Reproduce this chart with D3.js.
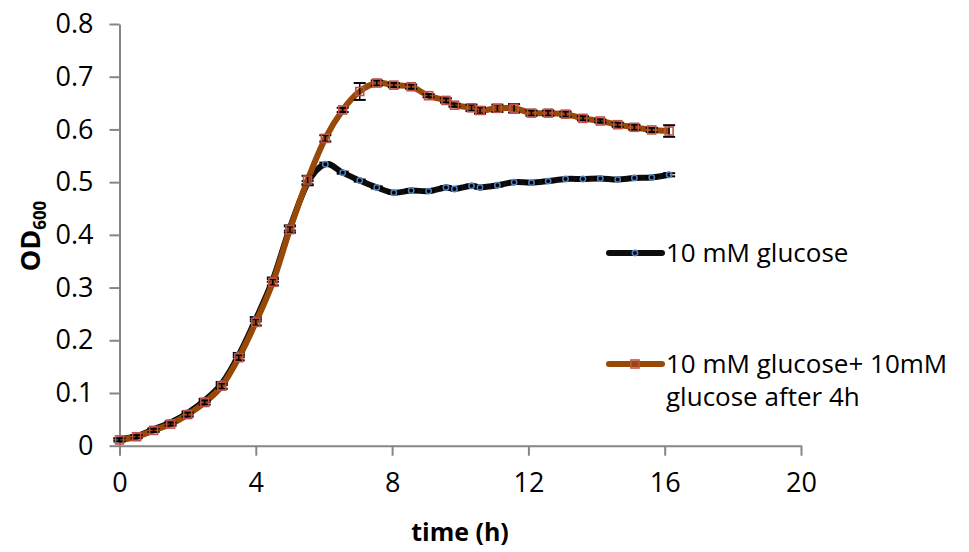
<!DOCTYPE html>
<html>
<head>
<meta charset="utf-8">
<script src="https://cdn.jsdelivr.net/npm/d3@7"></script>
<style>
  body { margin: 0; background: #fff; }
  text { font-family: "Open Sans", sans-serif; fill: #000; }
</style>
</head>
<body>
<div id="chart"></div>
<script>
// sampling times (h)
var times = [0, 0.5, 1, 1.5, 2, 2.5, 3, 3.5, 4, 4.5, 5, 5.52,
  6.04, 6.55, 7.05, 7.55, 8.05, 8.56, 9.07, 9.58,
  9.83, 10.33, 10.58, 11.09, 11.58, 12.09, 12.58, 13.09, 13.6, 14.11, 14.62, 15.11, 15.62, 16.13];

var glucose = [0.012, 0.018, 0.031, 0.044, 0.062, 0.086, 0.118, 0.172, 0.240, 0.315, 0.413, 0.498,
  0.534, 0.518, 0.503, 0.490, 0.480, 0.484, 0.483, 0.490,
  0.487, 0.493, 0.490, 0.494, 0.500, 0.499, 0.502, 0.506, 0.506, 0.507, 0.505, 0.508, 0.509, 0.514];
var glucoseErr = [0.002, 0.002, 0.002, 0.002, 0.003, 0.003, 0.003, 0.004, 0.004, 0.004, 0.005, 0.004,
  0.003, 0.002, 0.002, 0.002, 0.002, 0.002, 0.002, 0.002,
  0.002, 0.002, 0.002, 0.002, 0.002, 0.002, 0.002, 0.002, 0.002, 0.002, 0.002, 0.002, 0.002, 0.003];

var fed = [0.011, 0.017, 0.029, 0.041, 0.059, 0.082, 0.113, 0.167, 0.234, 0.310, 0.410, 0.504,
  0.583, 0.637, 0.672, 0.688, 0.684, 0.681, 0.664, 0.655,
  0.646, 0.641, 0.636, 0.640, 0.640, 0.631, 0.631, 0.629, 0.621, 0.616, 0.609, 0.604, 0.599, 0.597];
var fedErr = [0.003, 0.003, 0.003, 0.003, 0.004, 0.004, 0.005, 0.005, 0.006, 0.006, 0.006, 0.008,
  0.006, 0.004, 0.016, 0.005, 0.004, 0.004, 0.003, 0.004,
  0.003, 0.006, 0.006, 0.007, 0.008, 0.005, 0.005, 0.005, 0.004, 0.003, 0.004, 0.005, 0.004, 0.011];

var xTicks = [0, 4, 8, 12, 16, 20];
var yTicks = [0, 0.1, 0.2, 0.3, 0.4, 0.5, 0.6, 0.7, 0.8];
var seriesNames = ["10 mM glucose", ["10 mM glucose+ 10mM", "glucose after 4h"]];

var width = 969;
var height = 552;
var axisColor = "#868686";

var svg = d3.select("#chart")
  .append("svg")
  .attr("width", width)
  .attr("height", height);

var x = d3.scaleLinear().domain([0, 20]).range([119.5, 801]);
var y = d3.scaleLinear().domain([0, 0.8]).range([445.7, 24]);

// axes
var xAxis = svg.append("g")
  .attr("transform", "translate(0," + y(0) + ")")
  .call(d3.axisBottom(x).tickValues(xTicks).tickSize(10).tickPadding(17).tickSizeOuter(0));
var yAxis = svg.append("g")
  .attr("transform", "translate(" + x(0) + ",0)")
  .call(d3.axisLeft(y).tickValues(yTicks).tickSize(10).tickPadding(16).tickSizeOuter(0)
    .tickFormat(function(d){ return d === 0 ? "0" : d3.format(".1f")(d); }));

[xAxis, yAxis].forEach(function(a){
  a.select(".domain").attr("stroke", axisColor).attr("stroke-width", 2);
  a.selectAll(".tick line").attr("stroke", axisColor).attr("stroke-width", 2);
  a.selectAll(".tick text")
    .attr("font-family", "Open Sans")
    .attr("font-size", 27)
    .attr("fill", "#000");
});

// axis titles
svg.append("text")
  .attr("x", 460)
  .attr("y", 541)
  .attr("text-anchor", "middle")
  .attr("font-size", 25)
  .attr("font-weight", "bold")
  .text("time (h)");

var yTitle = svg.append("text")
  .attr("transform", "translate(40,236) rotate(-90)")
  .attr("text-anchor", "middle")
  .attr("font-size", 27)
  .attr("font-weight", "bold");
yTitle.append("tspan").text("OD");
yTitle.append("tspan").attr("font-size", 17).attr("dy", 6).text("600");

var line = d3.line()
  .x(function(d){ return x(d.t); })
  .y(function(d){ return y(d.v); })
  .curve(d3.curveCatmullRom.alpha(0));

function drawSeries(vals, errs, lineColor, markerColor, shape){
  var pts = times.map(function(t, i){ return {t: t, v: vals[i], e: errs[i]}; });
  var g = svg.append("g");

  g.append("path")
    .datum(pts)
    .attr("d", line)
    .attr("fill", "none")
    .attr("stroke", lineColor)
    .attr("stroke-width", 6)
    .attr("stroke-linejoin", "round");

  var eb = g.selectAll(".err").data(pts).enter().append("g");
  eb.append("line")
    .attr("x1", function(d){ return x(d.t); })
    .attr("x2", function(d){ return x(d.t); })
    .attr("y1", function(d){ return y(d.v - d.e); })
    .attr("y2", function(d){ return y(d.v + d.e); })
    .attr("stroke", "#000").attr("stroke-width", 1.5);
  [-1, 1].forEach(function(s){
    eb.append("line")
      .attr("x1", function(d){ return x(d.t) - 6; })
      .attr("x2", function(d){ return x(d.t) + 6; })
      .attr("y1", function(d){ return y(d.v + s * d.e); })
      .attr("y2", function(d){ return y(d.v + s * d.e); })
      .attr("stroke", "#000").attr("stroke-width", 2);
  });

  if (shape === "circle") {
    g.selectAll(".mk").data(pts).enter().append("circle")
      .attr("cx", function(d){ return x(d.t); })
      .attr("cy", function(d){ return y(d.v); })
      .attr("r", 2.7)
      .attr("fill", "none")
      .attr("stroke", markerColor)
      .attr("stroke-width", 1.5);
  } else {
    g.selectAll(".mk").data(pts).enter().append("rect")
      .attr("x", function(d){ return x(d.t) - 4; })
      .attr("y", function(d){ return y(d.v) - 4; })
      .attr("width", 8)
      .attr("height", 8)
      .attr("fill", "none")
      .attr("stroke", markerColor)
      .attr("stroke-width", 1.6);
  }
}

drawSeries(glucose, glucoseErr, "#0d0d0d", "#4f81bd", "circle");
drawSeries(fed, fedErr, "#984807", "#c0504d", "square");

// legend
var legend = svg.append("g");
var legendRows = [
  {y: 253, color: "#0d0d0d", mk: "#4f81bd", shape: "circle", lines: [seriesNames[0]]},
  {y: 364, color: "#984807", mk: "#c0504d", shape: "square", lines: seriesNames[1]}
];
legendRows.forEach(function(r){
  legend.append("line")
    .attr("x1", 609).attr("x2", 662)
    .attr("y1", r.y).attr("y2", r.y)
    .attr("stroke", r.color).attr("stroke-width", 6)
    .attr("stroke-linecap", "round");
  if (r.shape === "circle") {
    legend.append("circle").attr("cx", 635).attr("cy", r.y).attr("r", 2.7)
      .attr("fill", "none").attr("stroke", r.mk).attr("stroke-width", 1.5);
  } else {
    legend.append("rect").attr("x", 631).attr("y", r.y - 4).attr("width", 8).attr("height", 8)
      .attr("fill", "none").attr("stroke", r.mk).attr("stroke-width", 1.6);
  }
  r.lines.forEach(function(s, i){
    legend.append("text")
      .attr("x", 666)
      .attr("y", r.y + 9 + i * 33)
      .attr("font-size", 26)
      .text(s);
  });
});
</script>
</body>
</html>
